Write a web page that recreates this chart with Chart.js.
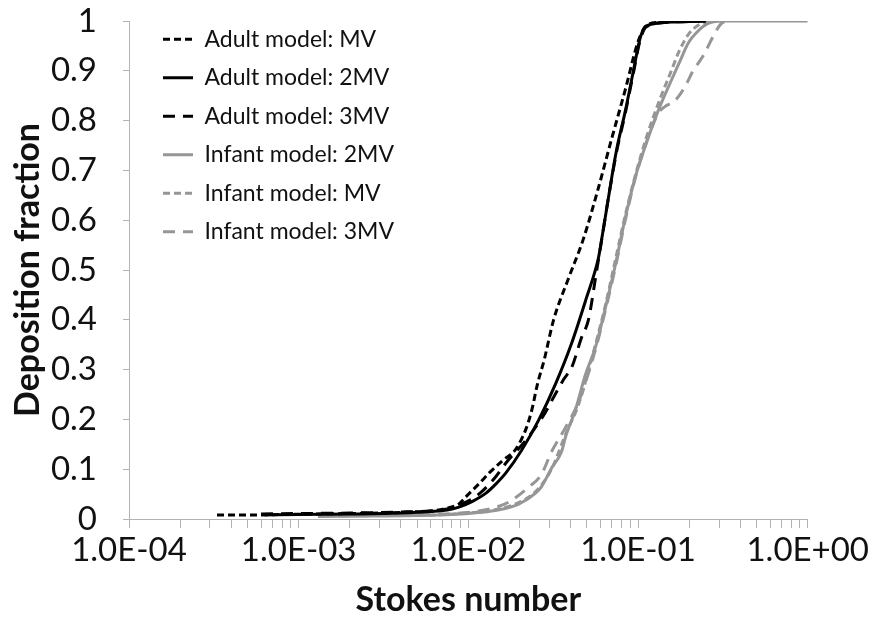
<!DOCTYPE html>
<html>
<head>
<meta charset="utf-8">
<title>Deposition fraction vs Stokes number</title>
<script src="https://cdn.jsdelivr.net/npm/chart.js@4/dist/chart.umd.min.js"></script>
<style>
  html, body { margin: 0; padding: 0; background: #fff; }
  #wrap { width: 872px; height: 628px; }
</style>
</head>
<body>
<div id="wrap"><canvas id="chart" width="872" height="628"></canvas></div>
<script>
// Stokes number (x) and deposition fraction (y) for each model / flow rate
const adultMvSt = [0.00033, 0.0005, 0.0008, 0.0012, 0.002, 0.003, 0.0045, 0.006, 0.0075, 0.0088, 0.0097, 0.0115, 0.0135, 0.016, 0.019, 0.0218, 0.0237, 0.0255, 0.028, 0.0318, 0.0389, 0.0477, 0.0584, 0.0697, 0.0841, 0.1003, 0.1117, 0.13, 0.25];
const adultMvDf = [0.008, 0.008, 0.009, 0.01, 0.011, 0.012, 0.014, 0.016, 0.022, 0.03, 0.045, 0.07, 0.095, 0.118, 0.14, 0.18, 0.22, 0.27, 0.32, 0.4, 0.483, 0.563, 0.665, 0.762, 0.862, 0.96, 0.99, 0.997, 1];

const adult2MvSt = [0.00063, 0.001, 0.002, 0.004, 0.006, 0.0075, 0.0088, 0.0105, 0.0127, 0.0145, 0.0166, 0.0206, 0.0259, 0.0327, 0.0405, 0.049, 0.0584, 0.0608, 0.0669, 0.0745, 0.0841, 0.0938, 0.103, 0.1117, 0.1655, 0.25];
const adult2MvDf = [0.008, 0.009, 0.01, 0.012, 0.015, 0.018, 0.024, 0.035, 0.052, 0.07, 0.092, 0.138, 0.198, 0.272, 0.352, 0.438, 0.524, 0.558, 0.645, 0.739, 0.819, 0.899, 0.966, 0.99, 0.998, 1];

const adult3MvSt = [0.0006, 0.001, 0.002, 0.004, 0.006, 0.0075, 0.0088, 0.0105, 0.012, 0.0145, 0.0166, 0.0218, 0.0282, 0.0315, 0.0364, 0.0408, 0.0464, 0.051, 0.0568, 0.062, 0.0669, 0.0745, 0.0841, 0.0938, 0.103, 0.1117, 0.16, 0.25];
const adult3MvDf = [0.01, 0.011, 0.012, 0.014, 0.016, 0.02, 0.028, 0.04, 0.055, 0.085, 0.112, 0.158, 0.212, 0.242, 0.28, 0.306, 0.364, 0.4, 0.495, 0.575, 0.645, 0.735, 0.815, 0.895, 0.962, 0.988, 0.998, 1];

const infant2MvSt = [0.0013, 0.0025, 0.005, 0.008, 0.0115, 0.015, 0.0198, 0.0249, 0.027, 0.0309, 0.0354, 0.0374, 0.0428, 0.049, 0.0561, 0.0643, 0.0735, 0.0841, 0.0964, 0.1117, 0.1315, 0.1567, 0.177, 0.197, 0.226, 0.259, 0.32, 1.0];
const infant2MvDf = [0.005, 0.006, 0.007, 0.009, 0.013, 0.018, 0.03, 0.052, 0.065, 0.102, 0.135, 0.165, 0.22, 0.29, 0.345, 0.425, 0.51, 0.605, 0.687, 0.754, 0.82, 0.88, 0.92, 0.955, 0.98, 0.995, 1, 1];

const infantMvSt = [0.0013, 0.003, 0.006, 0.0115, 0.015, 0.0198, 0.0249, 0.0309, 0.0374, 0.0446, 0.0561, 0.0643, 0.0735, 0.0841, 0.0964, 0.1117, 0.137, 0.155, 0.175, 0.2, 0.23, 0.27];
const infantMvDf = [0.006, 0.007, 0.008, 0.014, 0.02, 0.033, 0.055, 0.1, 0.17, 0.23, 0.35, 0.43, 0.52, 0.61, 0.69, 0.765, 0.85, 0.895, 0.94, 0.975, 0.993, 1];

const infant3MvSt = [0.0013, 0.003, 0.006, 0.0115, 0.015, 0.0175, 0.0227, 0.027, 0.0309, 0.0374, 0.0446, 0.0561, 0.0643, 0.0735, 0.0841, 0.0964, 0.1117, 0.1315, 0.144, 0.165, 0.189, 0.211, 0.242, 0.283, 0.31, 0.35];
const infant3MvDf = [0.006, 0.007, 0.009, 0.016, 0.025, 0.035, 0.064, 0.09, 0.135, 0.184, 0.235, 0.34, 0.42, 0.505, 0.6, 0.685, 0.755, 0.815, 0.828, 0.84, 0.868, 0.9, 0.93, 0.975, 0.995, 1];

const seriesLabels = [
  'Adult model: MV',
  'Adult model: 2MV',
  'Adult model: 3MV',
  'Infant model: 2MV',
  'Infant model: MV',
  'Infant model: 3MV'
];

// log axis: ticks at 1..9 x each decade, labels only on the decades
const xDecades = [1e-4, 1e-3, 1e-2, 1e-1, 1];
const xTickLabels = ['1.0E-04', '1.0E-03', '1.0E-02', '1.0E-01', '1.0E+00'];
const xMultiples = [1, 2, 3, 4, 5, 6, 7, 8, 9];

const BLACK = '#000000';
const GREY = '#969696';
const AXIS = '#b3b3b3';
const TEXT = '#111111';
const SHORT_DASH = [7, 4];
const LONG_DASH = [12, 8];

function toPoints(xs, ys) {
  return xs.map((x, i) => ({ x: x, y: ys[i] }));
}

function series(label, xs, ys, color, dash) {
  return {
    label: label,
    data: toPoints(xs, ys),
    borderColor: color,
    backgroundColor: color,
    borderWidth: 3,
    borderDash: dash,
    pointRadius: 0,
    cubicInterpolationMode: 'monotone',
    fill: false
  };
}

// put the legend inside the plot, top-left
const legendSpot = {
  id: 'legendSpot',
  afterLayout(chart) {
    const lg = chart.legend;
    if (!lg) return;
    lg.left = 147.5;
    lg.right = lg.left + 300;
    lg.top = 12.3;
    lg.bottom = lg.top + 400;
  }
};

const ctx = document.getElementById('chart');
new Chart(ctx, {
  type: 'line',
  data: {
    datasets: [
      series(seriesLabels[0], adultMvSt, adultMvDf, BLACK, SHORT_DASH),
      series(seriesLabels[1], adult2MvSt, adult2MvDf, BLACK, []),
      series(seriesLabels[2], adult3MvSt, adult3MvDf, BLACK, LONG_DASH),
      series(seriesLabels[3], infant2MvSt, infant2MvDf, GREY, []),
      series(seriesLabels[4], infantMvSt, infantMvDf, GREY, SHORT_DASH),
      series(seriesLabels[5], infant3MvSt, infant3MvDf, GREY, LONG_DASH)
    ]
  },
  options: {
    responsive: false,
    animation: false,
    devicePixelRatio: 1,
    layout: { padding: { top: 0, right: 62, bottom: 0, left: 0 } },
    plugins: {
      tooltip: { enabled: false },
      legend: {
        position: 'chartArea',
        align: 'start',
        labels: {
          color: TEXT,
          font: { family: 'Lato', size: 23 },
          usePointStyle: true,
          pointStyle: 'line',
          pointStyleWidth: 30,
          padding: 15.5,
          // line samples keep each dataset's dash pattern
          generateLabels: (chart) =>
            Chart.defaults.plugins.legend.labels.generateLabels(chart).map((item) => {
              const ds = chart.data.datasets[item.datasetIndex];
              item.lineDash = ds.borderDash;
              item.lineWidth = ds.borderWidth;
              item.strokeStyle = ds.borderColor;
              item.pointStyle = 'line';
              return item;
            })
        }
      }
    },
    scales: {
      x: {
        type: 'logarithmic',
        min: 1e-4,
        max: 1,
        afterBuildTicks: (scale) => {
          const ticks = [];
          xDecades.forEach((d, i) => {
            if (i === xDecades.length - 1) {
              ticks.push({ value: d, major: true });
              return;
            }
            xMultiples.forEach((m) => ticks.push({ value: +(m * d).toPrecision(3), major: m === 1 }));
          });
          scale.ticks = ticks;
        },
        afterFit: (scale) => { scale.height = 109; },
        border: { color: AXIS, width: 1 },
        grid: { drawOnChartArea: false, drawTicks: true, tickLength: 9, color: AXIS },
        ticks: {
          autoSkip: false,
          maxRotation: 0,
          padding: 3,
          color: TEXT,
          font: { family: 'Lato', size: 33 },
          callback: (v) => {
            const i = xDecades.findIndex((d) => Math.abs(d - v) / d < 1e-6);
            return i >= 0 ? xTickLabels[i] : '';
          }
        },
        title: {
          display: true,
          text: 'Stokes number',
          color: TEXT,
          font: { family: 'Lato', size: 34, weight: 'bold' },
          padding: { top: 0, bottom: 8 }
        }
      },
      y: {
        type: 'linear',
        min: 0,
        max: 1,
        // fixed axis width; top gap only needs room for half of the "1" label
        afterFit: (scale) => {
          scale.width = 129;
          scale.paddingTop = 21;
        },
        border: { color: AXIS, width: 1 },
        grid: { drawOnChartArea: false, drawTicks: true, tickLength: 6, color: AXIS },
        ticks: {
          stepSize: 0.1,
          padding: 26,
          color: TEXT,
          font: { family: 'Lato', size: 33 },
          callback: (v) => String(+v.toFixed(1))
        },
        title: {
          display: true,
          text: 'Deposition fraction',
          color: TEXT,
          font: { family: 'Lato', size: 34, weight: 'bold' },
          padding: { top: 8, bottom: 0 }
        }
      }
    }
  },
  plugins: [legendSpot]
});
</script>
</body>
</html>
